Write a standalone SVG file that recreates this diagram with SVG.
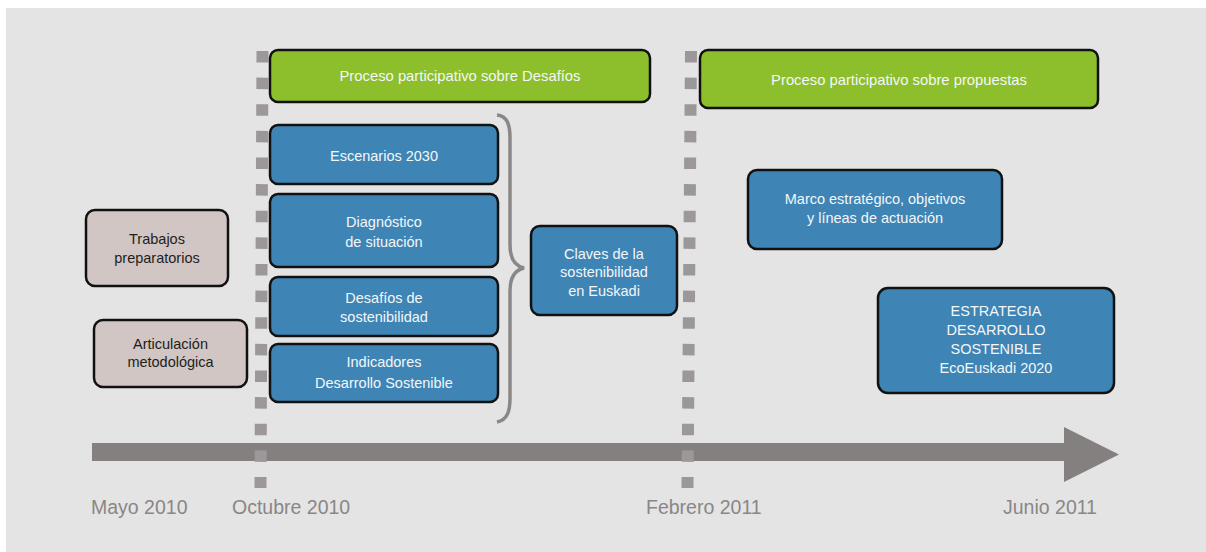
<svg xmlns="http://www.w3.org/2000/svg" width="1206" height="552" viewBox="0 0 1206 552">
  <style>
    .box { stroke: #111; stroke-width: 2.5; }
    .green { fill: #8cbf2b; }
    .blue { fill: #3e85b6; }
    .taupe { fill: #d1c6c3; }
    .lt { font-family: "Liberation Sans", Arial, sans-serif; font-size: 14.5px; fill: #f4f6f8; text-anchor: middle; }
    .gt { font-size: 14.8px; }
    .dk { font-family: "Liberation Sans", Arial, sans-serif; font-size: 14.5px; fill: #1e1e1e; text-anchor: middle; }
    .date { font-family: "Liberation Sans", Arial, sans-serif; font-size: 19.5px; fill: #8a8686; }
    .dots { stroke: #9c9899; stroke-width: 12; stroke-dasharray: 11.5 15.125; fill: none; }
  </style>
  <rect x="6" y="8" width="1200" height="544" fill="#e4e4e4"/>

  <g id="axis">
    <rect x="92" y="443" width="974" height="18" fill="#858080"/>
    <polygon points="1064,427 1119,454.5 1064,482" fill="#858080"/>
  </g>

  <g id="connectors">
    <line class="dots" x1="262.5" y1="51" x2="260.5" y2="488"/>
    <line class="dots" x1="691" y1="51" x2="687.5" y2="488"/>
    <path d="M497,115 C507,116 510,124 510,138 L510,245 C510,258 515,266 524,268 C515,270 510,278 510,291 L510,398 C510,412 507,420 497,422" fill="none" stroke="#8a8787" stroke-width="3.5"/>
  </g>

  <g id="proceso-desafios">
    <rect class="box green" x="270" y="50" width="380" height="52" rx="8"/>
    <text class="lt gt" x="460" y="81">Proceso participativo sobre Desafíos</text>
  </g>
  <g id="proceso-propuestas">
    <rect class="box green" x="700" y="50" width="398" height="58" rx="8"/>
    <text class="lt gt" x="899" y="85">Proceso participativo sobre propuestas</text>
  </g>

  <g id="escenarios">
    <rect class="box blue" x="270" y="125" width="228" height="59" rx="8"/>
    <text class="lt" x="384" y="161">Escenarios 2030</text>
  </g>
  <g id="diagnostico">
    <rect class="box blue" x="270" y="194" width="228" height="73" rx="8"/>
    <text class="lt" x="384" y="227">Diagnóstico</text>
    <text class="lt" x="384" y="246.5">de situación</text>
  </g>
  <g id="desafios">
    <rect class="box blue" x="270" y="277" width="228" height="59" rx="8"/>
    <text class="lt" x="384" y="302.5">Desafíos de</text>
    <text class="lt" x="384" y="321.5">sostenibilidad</text>
  </g>
  <g id="indicadores">
    <rect class="box blue" x="270" y="344" width="228" height="58" rx="8"/>
    <text class="lt" x="384" y="367">Indicadores</text>
    <text class="lt" x="384" y="388">Desarrollo Sostenible</text>
  </g>
  <g id="claves">
    <rect class="box blue" x="531" y="226" width="146" height="89" rx="9"/>
    <text class="lt" x="604" y="258.5">Claves de la</text>
    <text class="lt" x="604" y="277">sostenibilidad</text>
    <text class="lt" x="604" y="295.5">en Euskadi</text>
  </g>
  <g id="trabajos">
    <rect class="box taupe" x="86" y="210" width="142" height="76" rx="9"/>
    <text class="dk" x="157" y="244">Trabajos</text>
    <text class="dk" x="157" y="263">preparatorios</text>
  </g>
  <g id="articulacion">
    <rect class="box taupe" x="94" y="320" width="153" height="67" rx="9"/>
    <text class="dk" x="170.5" y="348.5">Articulación</text>
    <text class="dk" x="170.5" y="367">metodológica</text>
  </g>
  <g id="marco">
    <rect class="box blue" x="748" y="170" width="254" height="79" rx="9"/>
    <text class="lt" x="875" y="204">Marco estratégico, objetivos</text>
    <text class="lt" x="875" y="223">y líneas de actuación</text>
  </g>
  <g id="estrategia">
    <rect class="box blue" x="878" y="288" width="236" height="105" rx="10"/>
    <text class="lt" x="996" y="316">ESTRATEGIA</text>
    <text class="lt" x="996" y="335">DESARROLLO</text>
    <text class="lt" x="996" y="354">SOSTENIBLE</text>
    <text class="lt" x="996" y="372.5">EcoEuskadi 2020</text>
  </g>

  <g id="dates">
    <text class="date" x="91" y="514">Mayo 2010</text>
    <text class="date" x="232" y="514">Octubre 2010</text>
    <text class="date" x="646" y="514">Febrero 2011</text>
    <text class="date" x="1003" y="514">Junio 2011</text>
  </g>
</svg>
